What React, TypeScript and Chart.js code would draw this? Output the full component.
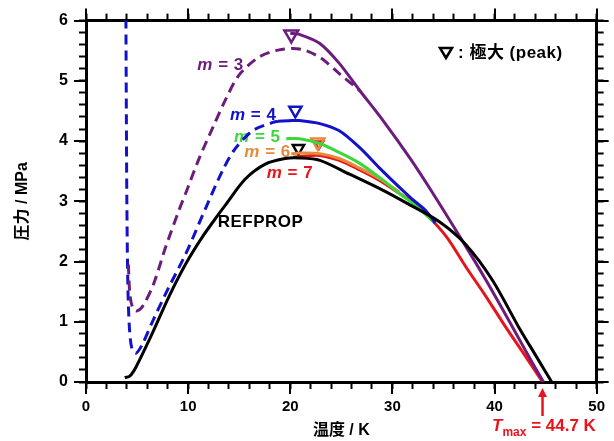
import React, { useEffect, useRef } from 'react';
import { Chart, registerables } from 'chart.js';

Chart.register(...registerables);

// ---- data (temperature K, pressure MPa) ----
const refpropT = [3.8, 4.3, 4.9, 6.5, 8.1, 9.8, 11.4, 13.0, 13.7, 15.6, 17.6, 19.5, 20.9, 22.9, 25.8, 29.0, 31.4, 34.6, 37.2, 39.8, 42.4, 44.0, 45.6];
const refpropP = [0.07, 0.10, 0.25, 0.81, 1.41, 1.97, 2.41, 2.79, 2.95, 3.37, 3.62, 3.71, 3.72, 3.68, 3.45, 3.19, 2.97, 2.66, 2.28, 1.69, 0.90, 0.45, 0.0];

const m3DashT = [4.15, 4.3, 4.6, 5.0, 5.6, 6.6, 7.8, 9.1, 9.8, 11.0, 12.4, 13.7, 15.0, 16.9, 18.8, 20.9, 22.9, 24.8, 26.8];
const m3DashP = [1.95, 1.45, 1.22, 1.18, 1.27, 1.62, 2.24, 2.85, 3.15, 3.68, 4.22, 4.70, 5.10, 5.39, 5.51, 5.53, 5.39, 5.12, 4.84];

const m3SolidT = [20.0, 20.9, 22.9, 24.8, 26.8, 29.0, 31.7, 33.9, 36.9, 39.2, 41.7, 43.7, 44.8];
const m3SolidP = [5.79, 5.77, 5.62, 5.29, 4.84, 4.36, 3.72, 3.15, 2.33, 1.68, 0.93, 0.32, 0.0];

const m4DashT = [3.9, 3.95, 4.0, 4.1, 4.25, 4.5, 4.9, 5.5, 6.5, 8.1, 9.8, 11.7, 13.4, 14.6, 16.3, 18.3, 18.8];
const m4DashP = [6.3, 4.5, 3.0, 1.6, 0.9, 0.55, 0.48, 0.62, 1.0, 1.57, 2.14, 2.88, 3.52, 3.87, 4.17, 4.31, 4.33];

const m4SolidT = [18.8, 20.2, 20.9, 22.9, 24.8, 26.8, 28.7, 30.7, 31.9, 33.3, 34.2];
const m4SolidP = [4.33, 4.34, 4.34, 4.29, 4.17, 3.89, 3.56, 3.23, 3.04, 2.84, 2.64];

const m5T = [19.6, 20.9, 22.9, 24.8, 26.8, 28.7, 30.7, 32.5, 34.0];
const m5P = [4.04, 4.04, 3.96, 3.81, 3.63, 3.40, 3.13, 2.90, 2.66];

const m6T = [20.1, 20.9, 22.9, 24.8, 26.8, 28.7, 30.7];
const m6P = [3.79, 3.80, 3.79, 3.71, 3.55, 3.38, 3.15];

const m7T = [20.3, 22.0, 22.9, 24.8, 26.8, 28.7, 30.7, 31.9, 33.3, 35.3, 37.2, 39.2, 41.1, 43.1, 44.7];
const m7P = [3.73, 3.76, 3.76, 3.68, 3.52, 3.35, 3.13, 2.99, 2.79, 2.41, 1.91, 1.41, 0.91, 0.41, 0.0];

// peak markers: m=3, m=4, REFPROP, m=6, m=7
const peakT = [20.1, 20.5, 20.8, 22.7, 22.8];
const peakP = [5.77, 4.51, 3.88, 3.98, 3.95];

const mLabels = ['3', '4', '5', '6', '7'];
const T_MAX = 44.7;

const xMajorTicks = [0, 10, 20, 30, 40, 50];
const yMajorTicks = [0, 1, 2, 3, 4, 5, 6];

// ---- styles / annotation placement ----
const SANS = "'Liberation Sans', Arial, 'Noto Sans CJK JP', sans-serif";
const PURPLE = '#6b1c7c';
const BLUE = '#1212cc';
const GREEN = '#3bd83b';
const ORANGE = '#e58a3c';
const RED = '#e8141c';
const peakColors = [PURPLE, BLUE, '#000000', ORANGE, RED];
const peakRadius = [8, 7, 6.5, 7.5, 5];
const mLabelColors = [PURPLE, BLUE, GREEN, ORANGE, RED];
const mLabelPosT = [10.9, 14.1, 14.5, 15.5, 17.7];
const mLabelPosP = [5.25, 4.43, 4.06, 3.81, 3.46];

const pts = (t: number[], p: number[]) => t.map((x, i) => ({ x, y: p[i] }));

const lineDs = (label: string, t: number[], p: number[], color: string, dashed: boolean) => ({
  label,
  data: pts(t, p),
  showLine: true,
  borderColor: color,
  borderWidth: 3,
  borderDash: dashed ? [10, 6] : [],
  pointRadius: 0,
  fill: false,
  tension: 0.3,
});

const annotPlugin = {
  id: 'annot',
  beforeDatasetsDraw(chart: any) {
    const { ctx, scales } = chart;
    const x = scales.x, y = scales.y;
    ctx.save();
    ctx.textBaseline = 'middle';
    ctx.textAlign = 'left';
    (ctx as any).letterSpacing = '0.5px';
    mLabels.forEach((n, i) => {
      const px = x.getPixelForValue(mLabelPosT[i]);
      const py = y.getPixelForValue(mLabelPosP[i]);
      ctx.fillStyle = mLabelColors[i];
      ctx.font = `italic bold 17px ${SANS}`;
      ctx.fillText('m', px, py);
      const w = ctx.measureText('m').width;
      ctx.font = `bold 17px ${SANS}`;
      ctx.fillText(' = ' + n, px + w, py);
    });
    ctx.fillStyle = '#000';
    ctx.font = `bold 17px ${SANS}`;
    ctx.fillText('REFPROP', x.getPixelForValue(12.9), y.getPixelForValue(2.65));
    ctx.restore();
  },
  afterDraw(chart: any) {
    const { ctx, scales, chartArea } = chart;
    const x = scales.x, y = scales.y;
    ctx.save();
    // longer major ticks
    ctx.strokeStyle = '#000';
    ctx.lineWidth = 2;
    ctx.beginPath();
    xMajorTicks.forEach((v) => {
      const px = Math.round(x.getPixelForValue(v));
      ctx.moveTo(px, chartArea.bottom);
      ctx.lineTo(px, chartArea.bottom + 12);
      ctx.moveTo(px, chartArea.top);
      ctx.lineTo(px, chartArea.top - 12);
    });
    yMajorTicks.forEach((v) => {
      const py = Math.round(y.getPixelForValue(v));
      ctx.moveTo(chartArea.left, py);
      ctx.lineTo(chartArea.left - 12, py);
      ctx.moveTo(chartArea.right, py);
      ctx.lineTo(chartArea.right + 12, py);
    });
    ctx.stroke();

    // legend note
    ctx.lineWidth = 2.5;
    ctx.beginPath();
    ctx.moveTo(440, 48);
    ctx.lineTo(452, 48);
    ctx.lineTo(446, 58);
    ctx.closePath();
    ctx.stroke();
    ctx.fillStyle = '#000';
    ctx.font = `bold 17px ${SANS}`;
    ctx.textBaseline = 'middle';
    ctx.textAlign = 'left';
    (ctx as any).letterSpacing = '0.5px';
    ctx.fillText(': 極大 (peak)', 458, 53);

    // Tmax arrow + label
    const ax = x.getPixelForValue(T_MAX);
    ctx.strokeStyle = RED;
    ctx.fillStyle = RED;
    ctx.lineWidth = 2.5;
    ctx.beginPath();
    ctx.moveTo(ax, 416);
    ctx.lineTo(ax, 395);
    ctx.stroke();
    ctx.beginPath();
    ctx.moveTo(ax, 388);
    ctx.lineTo(ax - 4.5, 397);
    ctx.lineTo(ax + 4.5, 397);
    ctx.closePath();
    ctx.fill();
    (ctx as any).letterSpacing = '0px';
    ctx.textBaseline = 'alphabetic';
    let cx = 492;
    ctx.font = `italic bold 17px ${SANS}`;
    ctx.fillText('T', cx, 431);
    cx += ctx.measureText('T').width;
    ctx.font = `bold 12px ${SANS}`;
    ctx.fillText('max', cx, 436);
    cx += ctx.measureText('max').width;
    ctx.font = `bold 17px ${SANS}`;
    ctx.fillText(' = ' + T_MAX.toFixed(1) + ' K', cx, 431);
    ctx.restore();
  },
};

const gridOpts = {
  drawOnChartArea: false,
  drawTicks: true,
  tickLength: 7,
  tickWidth: 2,
  tickColor: '#000',
};
const borderOpts = { display: true, width: 3, color: '#000' };

export default function App() {
  const ref = useRef<HTMLCanvasElement>(null);
  useEffect(() => {
    const datasets: any[] = [
      lineDs('REFPROP', refpropT, refpropP, '#000000', false),
      lineDs('m=3 dashed', m3DashT, m3DashP, PURPLE, true),
      lineDs('m=3', m3SolidT, m3SolidP, PURPLE, false),
      lineDs('m=4 dashed', m4DashT, m4DashP, BLUE, true),
      lineDs('m=4', m4SolidT, m4SolidP, BLUE, false),
      lineDs('m=5', m5T, m5P, GREEN, false),
      lineDs('m=6', m6T, m6P, ORANGE, false),
      lineDs('m=7', m7T, m7P, RED, false),
    ];
    peakT.forEach((t, i) => {
      datasets.push({
        label: 'peak' + i,
        data: [{ x: t, y: peakP[i] }],
        showLine: false,
        pointStyle: 'triangle',
        rotation: 180,
        pointRadius: peakRadius[i],
        borderColor: peakColors[i],
        backgroundColor: 'rgba(255,255,255,0)',
        pointBorderWidth: 2.5,
        borderWidth: 2.5,
      });
    });
    const chart = new Chart(ref.current as HTMLCanvasElement, {
      type: 'scatter',
      data: { datasets },
      plugins: [annotPlugin],
      options: {
        animation: false,
        responsive: false,
        devicePixelRatio: 1,
        layout: { padding: 0 },
        plugins: { legend: { display: false }, tooltip: { enabled: false }, title: { display: false } },
        scales: {
          x: {
            type: 'linear',
            position: 'bottom',
            min: 0,
            max: 50,
            z: 1,
            grid: gridOpts,
            border: borderOpts,
            ticks: {
              stepSize: 2,
              autoSkip: false,
              maxRotation: 0,
              padding: 9,
              color: '#000',
              font: { family: SANS, size: 15, weight: 'bold' },
              callback: (v: any) => (Math.abs(v % 10) < 1e-6 ? String(v) : ''),
            },
            title: {
              display: true,
              text: '温度 / K',
              color: '#000',
              font: { family: SANS, size: 16, weight: 'bold' },
              padding: { top: 0, bottom: 1 },
            },
            afterFit: (s: any) => { s.height = 59; },
          },
          x2: {
            type: 'linear',
            position: 'top',
            min: 0,
            max: 50,
            z: 1,
            grid: gridOpts,
            border: borderOpts,
            ticks: { stepSize: 2, autoSkip: false, display: false },
            afterFit: (s: any) => { s.height = 20; },
          },
          y: {
            type: 'linear',
            position: 'left',
            min: 0,
            max: 6,
            z: 1,
            grid: gridOpts,
            border: borderOpts,
            ticks: {
              stepSize: 0.2,
              autoSkip: false,
              padding: 11,
              color: '#000',
              font: { family: SANS, size: 16, weight: 'bold' },
              callback: (v: any) => {
                const r = Math.round(v);
                return Math.abs(v - r) < 1e-6 ? String(r) : '';
              },
            },
            title: {
              display: true,
              text: '圧力 / MPa',
              color: '#000',
              font: { family: SANS, size: 16, weight: 'bold' },
              padding: { top: 13, bottom: 0 },
            },
            afterFit: (s: any) => { s.width = 86; },
          },
          y2: {
            type: 'linear',
            position: 'right',
            min: 0,
            max: 6,
            z: 1,
            grid: gridOpts,
            border: borderOpts,
            ticks: { stepSize: 0.2, autoSkip: false, display: false },
            afterFit: (s: any) => { s.width = 16; },
          },
        },
      } as any,
    });
    return () => chart.destroy();
  }, []);
  return (
    <div style={{ position: 'fixed', left: 0, top: 0, width: 614, height: 441, background: '#fff' }}>
      <canvas ref={ref} width={614} height={441} style={{ display: 'block', width: 614, height: 441 }} />
    </div>
  );
}
